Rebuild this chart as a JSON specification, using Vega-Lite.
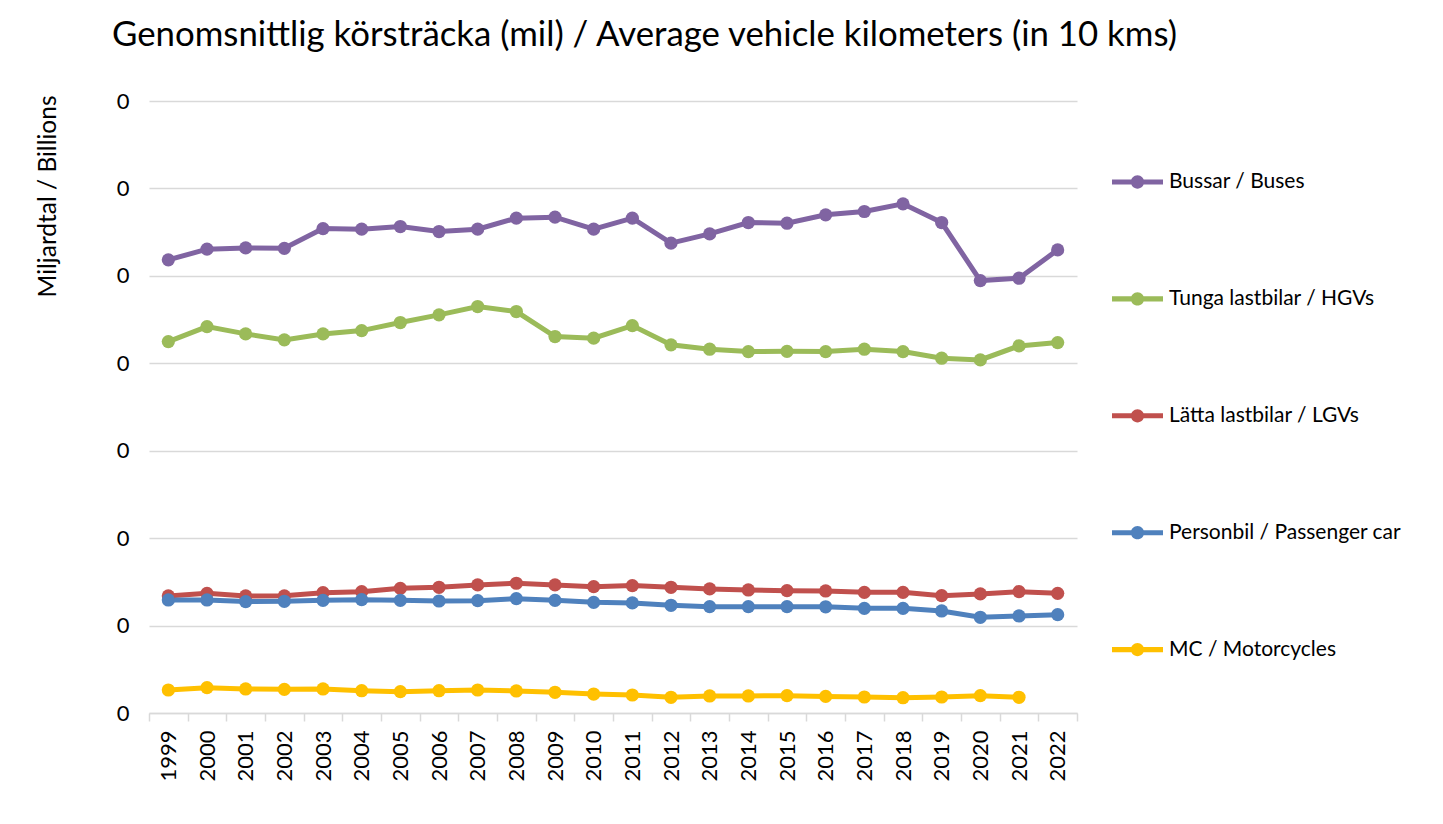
{
  "$schema": "https://vega.github.io/schema/vega-lite/v6.json",
  "width": 928,
  "height": 612,
  "autosize": {"type": "none"},
  "padding": {"left": 149, "top": 101, "right": 366, "bottom": 111},
  "background": "white",
  "title": {
    "text": "Genomsnittlig körsträcka (mil) / Average vehicle kilometers (in 10 kms)",
    "anchor": "start",
    "frame": "group",
    "dx": -37,
    "offset": 9,
    "baseline": "alphabetic",
    "font": "Lato",
    "fontSize": 34.8,
    "fontWeight": "normal",
    "color": "#000000"
  },
  "datasets": {
    "d": [
      {"year": "1999", "series": "Bussar / Buses", "value": 5183},
      {"year": "2000", "series": "Bussar / Buses", "value": 5305},
      {"year": "2001", "series": "Bussar / Buses", "value": 5320},
      {"year": "2002", "series": "Bussar / Buses", "value": 5315},
      {"year": "2003", "series": "Bussar / Buses", "value": 5541},
      {"year": "2004", "series": "Bussar / Buses", "value": 5534},
      {"year": "2005", "series": "Bussar / Buses", "value": 5564},
      {"year": "2006", "series": "Bussar / Buses", "value": 5507},
      {"year": "2007", "series": "Bussar / Buses", "value": 5534},
      {"year": "2008", "series": "Bussar / Buses", "value": 5660},
      {"year": "2009", "series": "Bussar / Buses", "value": 5671},
      {"year": "2010", "series": "Bussar / Buses", "value": 5534},
      {"year": "2011", "series": "Bussar / Buses", "value": 5660},
      {"year": "2012", "series": "Bussar / Buses", "value": 5374},
      {"year": "2013", "series": "Bussar / Buses", "value": 5480},
      {"year": "2014", "series": "Bussar / Buses", "value": 5610},
      {"year": "2015", "series": "Bussar / Buses", "value": 5602},
      {"year": "2016", "series": "Bussar / Buses", "value": 5698},
      {"year": "2017", "series": "Bussar / Buses", "value": 5736},
      {"year": "2018", "series": "Bussar / Buses", "value": 5824},
      {"year": "2019", "series": "Bussar / Buses", "value": 5610},
      {"year": "2020", "series": "Bussar / Buses", "value": 4946},
      {"year": "2021", "series": "Bussar / Buses", "value": 4973},
      {"year": "2022", "series": "Bussar / Buses", "value": 5297},
      {"year": "1999", "series": "Tunga lastbilar / HGVs", "value": 4248},
      {"year": "2000", "series": "Tunga lastbilar / HGVs", "value": 4420},
      {"year": "2001", "series": "Tunga lastbilar / HGVs", "value": 4336},
      {"year": "2002", "series": "Tunga lastbilar / HGVs", "value": 4268},
      {"year": "2003", "series": "Tunga lastbilar / HGVs", "value": 4336},
      {"year": "2004", "series": "Tunga lastbilar / HGVs", "value": 4374},
      {"year": "2005", "series": "Tunga lastbilar / HGVs", "value": 4466},
      {"year": "2006", "series": "Tunga lastbilar / HGVs", "value": 4554},
      {"year": "2007", "series": "Tunga lastbilar / HGVs", "value": 4649},
      {"year": "2008", "series": "Tunga lastbilar / HGVs", "value": 4592},
      {"year": "2009", "series": "Tunga lastbilar / HGVs", "value": 4306},
      {"year": "2010", "series": "Tunga lastbilar / HGVs", "value": 4287},
      {"year": "2011", "series": "Tunga lastbilar / HGVs", "value": 4431},
      {"year": "2012", "series": "Tunga lastbilar / HGVs", "value": 4211},
      {"year": "2013", "series": "Tunga lastbilar / HGVs", "value": 4161},
      {"year": "2014", "series": "Tunga lastbilar / HGVs", "value": 4134},
      {"year": "2015", "series": "Tunga lastbilar / HGVs", "value": 4137},
      {"year": "2016", "series": "Tunga lastbilar / HGVs", "value": 4134},
      {"year": "2017", "series": "Tunga lastbilar / HGVs", "value": 4161},
      {"year": "2018", "series": "Tunga lastbilar / HGVs", "value": 4134},
      {"year": "2019", "series": "Tunga lastbilar / HGVs", "value": 4058},
      {"year": "2020", "series": "Tunga lastbilar / HGVs", "value": 4039},
      {"year": "2021", "series": "Tunga lastbilar / HGVs", "value": 4199},
      {"year": "2022", "series": "Tunga lastbilar / HGVs", "value": 4237},
      {"year": "1999", "series": "Lätta lastbilar / LGVs", "value": 1339},
      {"year": "2000", "series": "Lätta lastbilar / LGVs", "value": 1369},
      {"year": "2001", "series": "Lätta lastbilar / LGVs", "value": 1339},
      {"year": "2002", "series": "Lätta lastbilar / LGVs", "value": 1340},
      {"year": "2003", "series": "Lätta lastbilar / LGVs", "value": 1376},
      {"year": "2004", "series": "Lätta lastbilar / LGVs", "value": 1388},
      {"year": "2005", "series": "Lätta lastbilar / LGVs", "value": 1426},
      {"year": "2006", "series": "Lätta lastbilar / LGVs", "value": 1438},
      {"year": "2007", "series": "Lätta lastbilar / LGVs", "value": 1465},
      {"year": "2008", "series": "Lätta lastbilar / LGVs", "value": 1484},
      {"year": "2009", "series": "Lätta lastbilar / LGVs", "value": 1465},
      {"year": "2010", "series": "Lätta lastbilar / LGVs", "value": 1445},
      {"year": "2011", "series": "Lätta lastbilar / LGVs", "value": 1457},
      {"year": "2012", "series": "Lätta lastbilar / LGVs", "value": 1438},
      {"year": "2013", "series": "Lätta lastbilar / LGVs", "value": 1419},
      {"year": "2014", "series": "Lätta lastbilar / LGVs", "value": 1407},
      {"year": "2015", "series": "Lätta lastbilar / LGVs", "value": 1399},
      {"year": "2016", "series": "Lätta lastbilar / LGVs", "value": 1396},
      {"year": "2017", "series": "Lätta lastbilar / LGVs", "value": 1380},
      {"year": "2018", "series": "Lätta lastbilar / LGVs", "value": 1380},
      {"year": "2019", "series": "Lätta lastbilar / LGVs", "value": 1342},
      {"year": "2020", "series": "Lätta lastbilar / LGVs", "value": 1362},
      {"year": "2021", "series": "Lätta lastbilar / LGVs", "value": 1388},
      {"year": "2022", "series": "Lätta lastbilar / LGVs", "value": 1369},
      {"year": "1999", "series": "Personbil / Passenger car", "value": 1293},
      {"year": "2000", "series": "Personbil / Passenger car", "value": 1293},
      {"year": "2001", "series": "Personbil / Passenger car", "value": 1274},
      {"year": "2002", "series": "Personbil / Passenger car", "value": 1278},
      {"year": "2003", "series": "Personbil / Passenger car", "value": 1289},
      {"year": "2004", "series": "Personbil / Passenger car", "value": 1296},
      {"year": "2005", "series": "Personbil / Passenger car", "value": 1289},
      {"year": "2006", "series": "Personbil / Passenger car", "value": 1281},
      {"year": "2007", "series": "Personbil / Passenger car", "value": 1285},
      {"year": "2008", "series": "Personbil / Passenger car", "value": 1308},
      {"year": "2009", "series": "Personbil / Passenger car", "value": 1289},
      {"year": "2010", "series": "Personbil / Passenger car", "value": 1266},
      {"year": "2011", "series": "Personbil / Passenger car", "value": 1259},
      {"year": "2012", "series": "Personbil / Passenger car", "value": 1232},
      {"year": "2013", "series": "Personbil / Passenger car", "value": 1216},
      {"year": "2014", "series": "Personbil / Passenger car", "value": 1216},
      {"year": "2015", "series": "Personbil / Passenger car", "value": 1216},
      {"year": "2016", "series": "Personbil / Passenger car", "value": 1215},
      {"year": "2017", "series": "Personbil / Passenger car", "value": 1197},
      {"year": "2018", "series": "Personbil / Passenger car", "value": 1197},
      {"year": "2019", "series": "Personbil / Passenger car", "value": 1167},
      {"year": "2020", "series": "Personbil / Passenger car", "value": 1095},
      {"year": "2021", "series": "Personbil / Passenger car", "value": 1110},
      {"year": "2022", "series": "Personbil / Passenger car", "value": 1125},
      {"year": "1999", "series": "MC / Motorcycles", "value": 263},
      {"year": "2000", "series": "MC / Motorcycles", "value": 290},
      {"year": "2001", "series": "MC / Motorcycles", "value": 275},
      {"year": "2002", "series": "MC / Motorcycles", "value": 271},
      {"year": "2003", "series": "MC / Motorcycles", "value": 275},
      {"year": "2004", "series": "MC / Motorcycles", "value": 255},
      {"year": "2005", "series": "MC / Motorcycles", "value": 244},
      {"year": "2006", "series": "MC / Motorcycles", "value": 255},
      {"year": "2007", "series": "MC / Motorcycles", "value": 263},
      {"year": "2008", "series": "MC / Motorcycles", "value": 252},
      {"year": "2009", "series": "MC / Motorcycles", "value": 237},
      {"year": "2010", "series": "MC / Motorcycles", "value": 217},
      {"year": "2011", "series": "MC / Motorcycles", "value": 206},
      {"year": "2012", "series": "MC / Motorcycles", "value": 180},
      {"year": "2013", "series": "MC / Motorcycles", "value": 195},
      {"year": "2014", "series": "MC / Motorcycles", "value": 195},
      {"year": "2015", "series": "MC / Motorcycles", "value": 198},
      {"year": "2016", "series": "MC / Motorcycles", "value": 190},
      {"year": "2017", "series": "MC / Motorcycles", "value": 183},
      {"year": "2018", "series": "MC / Motorcycles", "value": 175},
      {"year": "2019", "series": "MC / Motorcycles", "value": 183},
      {"year": "2020", "series": "MC / Motorcycles", "value": 198},
      {"year": "2021", "series": "MC / Motorcycles", "value": 180}
    ]
  },
  "data": {"name": "d"},
  "mark": {"type": "line", "strokeWidth": 5, "point": {"filled": true, "size": 175, "opacity": 1}},
  "encoding": {
    "x": {
      "field": "year",
      "type": "ordinal",
      "bandPosition": 0.5,
      "scale": {"type": "band", "paddingInner": 0, "paddingOuter": 0},
      "axis": {
        "title": null,
        "labelAngle": -90,
        "labelAlign": "right",
        "labelBaseline": "middle",
        "labelFont": "Lato",
        "labelFontSize": 22,
        "labelColor": "#000000",
        "labelPadding": 9,
        "tickBand": "extent",
        "tickSize": 8,
        "tickColor": "#d9d9d9",
        "tickWidth": 1.5,
        "domainColor": "#d9d9d9",
        "domainWidth": 1.5,
        "grid": false
      }
    },
    "y": {
      "field": "value",
      "type": "quantitative",
      "scale": {"domain": [0, 7000], "nice": false},
      "axis": {
        "title": "Miljardtal / Billions",
        "titleFont": "Lato",
        "titleFontSize": 24.5,
        "titleFontWeight": "normal",
        "titleColor": "#000000",
        "titleAngle": -90,
        "titleAlign": "right",
        "titleBaseline": "middle",
        "titleX": -101,
        "titleY": -6,
        "values": [0, 1000, 2000, 3000, 4000, 5000, 6000, 7000],
        "labelExpr": "'0'",
        "labelFont": "Lato",
        "labelFontSize": 22,
        "labelColor": "#000000",
        "labelPadding": 20,
        "ticks": false,
        "domain": false,
        "grid": true,
        "gridColor": "#d9d9d9",
        "gridWidth": 1.5
      }
    },
    "color": {
      "field": "series",
      "type": "nominal",
      "sort": null,
      "scale": {
        "domain": ["Bussar / Buses", "Tunga lastbilar / HGVs", "Lätta lastbilar / LGVs", "Personbil / Passenger car", "MC / Motorcycles"],
        "range": ["#8064A2", "#9BBB59", "#C0504D", "#4F81BD", "#FFC000"]
      },
      "legend": {
        "title": null,
        "orient": "none",
        "legendX": 963,
        "legendY": 55.5,
        "direction": "vertical",
        "padding": 0,
        "symbolType": "M-1,-0.1L1,-0.1L1,0.1L-1,0.1Z M-0.26,0A0.26,0.26 0 1,1 0.26,0A0.26,0.26 0 1,1 -0.26,0Z",
        "symbolSize": 2601,
        "symbolStrokeWidth": 0,
        "labelFont": "Lato",
        "labelFontSize": 21,
        "labelColor": "#000000",
        "labelOffset": 6,
        "rowPadding": 80.9,
        "labelLimit": 400,
        "encode": {
          "symbols": {
            "update": {
              "fill": {"scale": "color", "field": "value"},
              "stroke": {"value": "transparent"},
              "opacity": {"value": 1}
            }
          }
        }
      }
    }
  },
  "config": {"view": {"stroke": null}}
}
